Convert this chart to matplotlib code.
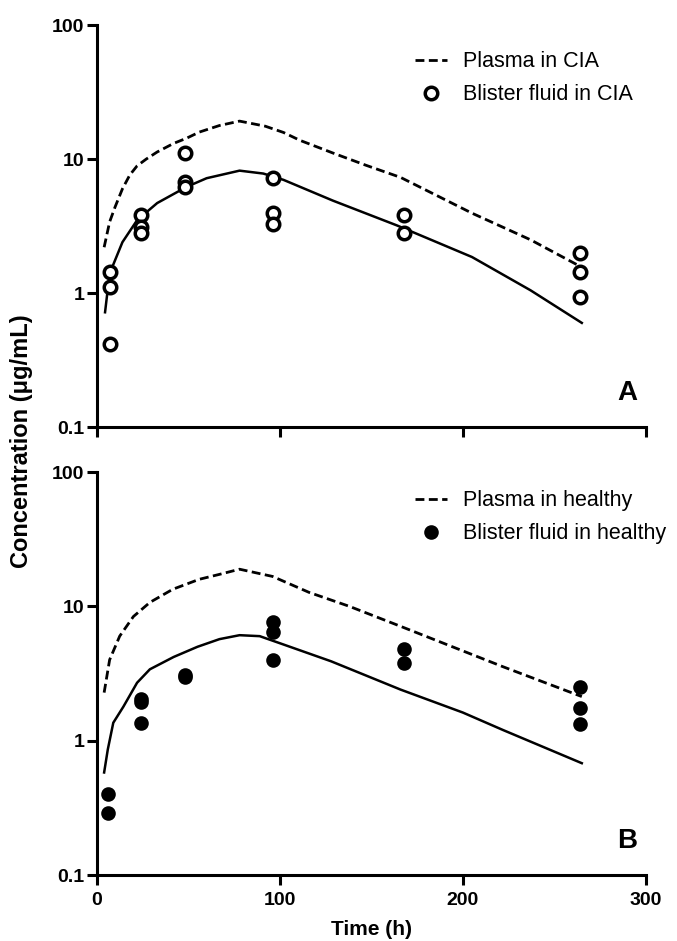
import matplotlib.pyplot as plt

plt.rcParams['font.family'] = ['Liberation Sans', 'DejaVu Sans']

# panel A (CIA)
a_plasma_t = [4, 7, 10, 14, 18, 22, 27, 33, 42, 49, 56, 67, 78, 92, 102, 111, 129, 147, 166, 205, 237, 265]
a_plasma = [2.2, 3.4, 4.4, 6.0, 7.6, 8.9, 10.0, 11.3, 13.1, 14.3, 15.9, 17.8, 19.2, 17.6, 15.8, 13.8, 11.1, 9.0, 7.3, 3.95, 2.5, 1.56]
a_fit_t = [4.5, 7, 14, 22, 33, 49, 60, 78, 91, 102, 129, 164, 205, 237, 265]
a_fit = [0.72, 1.4, 2.4, 3.5, 4.7, 6.2, 7.2, 8.2, 7.8, 7.0, 4.9, 3.2, 1.86, 1.05, 0.60]
a_obs_t = [7, 7, 7, 24, 24, 24, 48, 48, 48, 96, 96, 96, 168, 168, 264, 264, 264]
a_obs = [1.44, 1.11, 0.42, 3.8, 3.1, 2.8, 11.1, 6.7, 6.2, 7.2, 3.95, 3.3, 3.8, 2.8, 2.0, 1.45, 0.94]

# panel B (healthy)
b_plasma_t = [4, 7, 12.5, 20, 29, 41.5, 56, 67, 78, 96, 116, 138, 166, 222, 265]
b_plasma = [2.28, 4.0, 6.0, 8.4, 10.7, 13.4, 15.9, 17.3, 18.9, 16.7, 12.7, 10.0, 7.1, 3.55, 2.13]
b_fit_t = [4, 6, 9, 14.5, 22, 29, 42, 55, 67, 78, 89, 102, 128, 166, 200, 222, 265]
b_fit = [0.58, 0.86, 1.36, 1.79, 2.7, 3.4, 4.2, 5.0, 5.7, 6.1, 6.0, 5.2, 3.9, 2.4, 1.62, 1.2, 0.68]
b_obs_t = [6, 6, 24, 24, 24, 48, 48, 96, 96, 96, 168, 168, 264, 264, 264]
b_obs = [0.40, 0.29, 2.05, 1.95, 1.36, 3.1, 3.0, 7.6, 6.4, 4.0, 4.8, 3.8, 2.5, 1.76, 1.32]

fig = plt.figure(figsize=(6.77, 9.41), dpi=100)
ax_a = fig.add_axes([0.143, 0.546, 0.811, 0.4274])
ax_b = fig.add_axes([0.143, 0.0701, 0.811, 0.4283])

panels = [
    (ax_a, a_plasma_t, a_plasma, a_fit_t, a_fit, a_obs_t, a_obs, 'white', 9,
     'Plasma in CIA', 'Blister fluid in CIA', 'A', 0.935),
    (ax_b, b_plasma_t, b_plasma, b_fit_t, b_fit, b_obs_t, b_obs, 'black', 8,
     'Plasma in healthy', 'Blister fluid in healthy', 'B', 0.955),
]

for ax, pt, plasma, ft, fit, ot, obs, fc, ms, lab1, lab2, letter, ly in panels:
    ax.plot(pt, plasma, color='black', lw=2.0, ls=(0, (3.2, 1.6)), label=lab1)
    ax.plot(ft, fit, color='black', lw=1.8)
    ax.plot(ot, obs, ls='none', marker='o', ms=ms, mfc=fc, mec='black',
            mew=2.5, label=lab2)
    ax.set_yscale('log')
    ax.set_ylim(0.1, 100)
    ax.set_xlim(0, 300)
    ax.set_xticks([0, 100, 200, 300])
    ax.set_yticks([0.1, 1, 10, 100])
    ax.set_yticklabels(['0.1', '1', '10', '100'])
    ax.yaxis.set_minor_locator(plt.NullLocator())
    for s in ['top', 'right']:
        ax.spines[s].set_visible(False)
    for s in ['left', 'bottom']:
        ax.spines[s].set_linewidth(2.2)
    ax.tick_params(width=2.2, length=7, labelsize=14)
    ax.tick_params(axis='x', pad=5)
    ax.tick_params(axis='y', pad=2)
    for t in ax.get_xticklabels() + ax.get_yticklabels():
        t.set_fontweight('bold')
    ax.text(0.985, 0.085, letter, transform=ax.transAxes, ha='right', va='center',
            fontsize=20, fontweight='bold')
    ax.legend(loc='upper left', bbox_to_anchor=(0.579, ly), frameon=False,
              fontsize=15.5, handlelength=1.5, handletextpad=0.75,
              labelspacing=0.56, borderaxespad=0, borderpad=0)
    ax.patch.set_visible(False)

ax_a.tick_params(axis='x', labelbottom=False)
ax_b.set_xlabel('Time (h)', fontsize=15, fontweight='bold', labelpad=8)
fig.text(0.032, 0.531, 'Concentration (\u03bcg/mL)', rotation=90, ha='center',
         va='center', fontsize=17, fontweight='bold')

fig.savefig('out.png', dpi=100)
